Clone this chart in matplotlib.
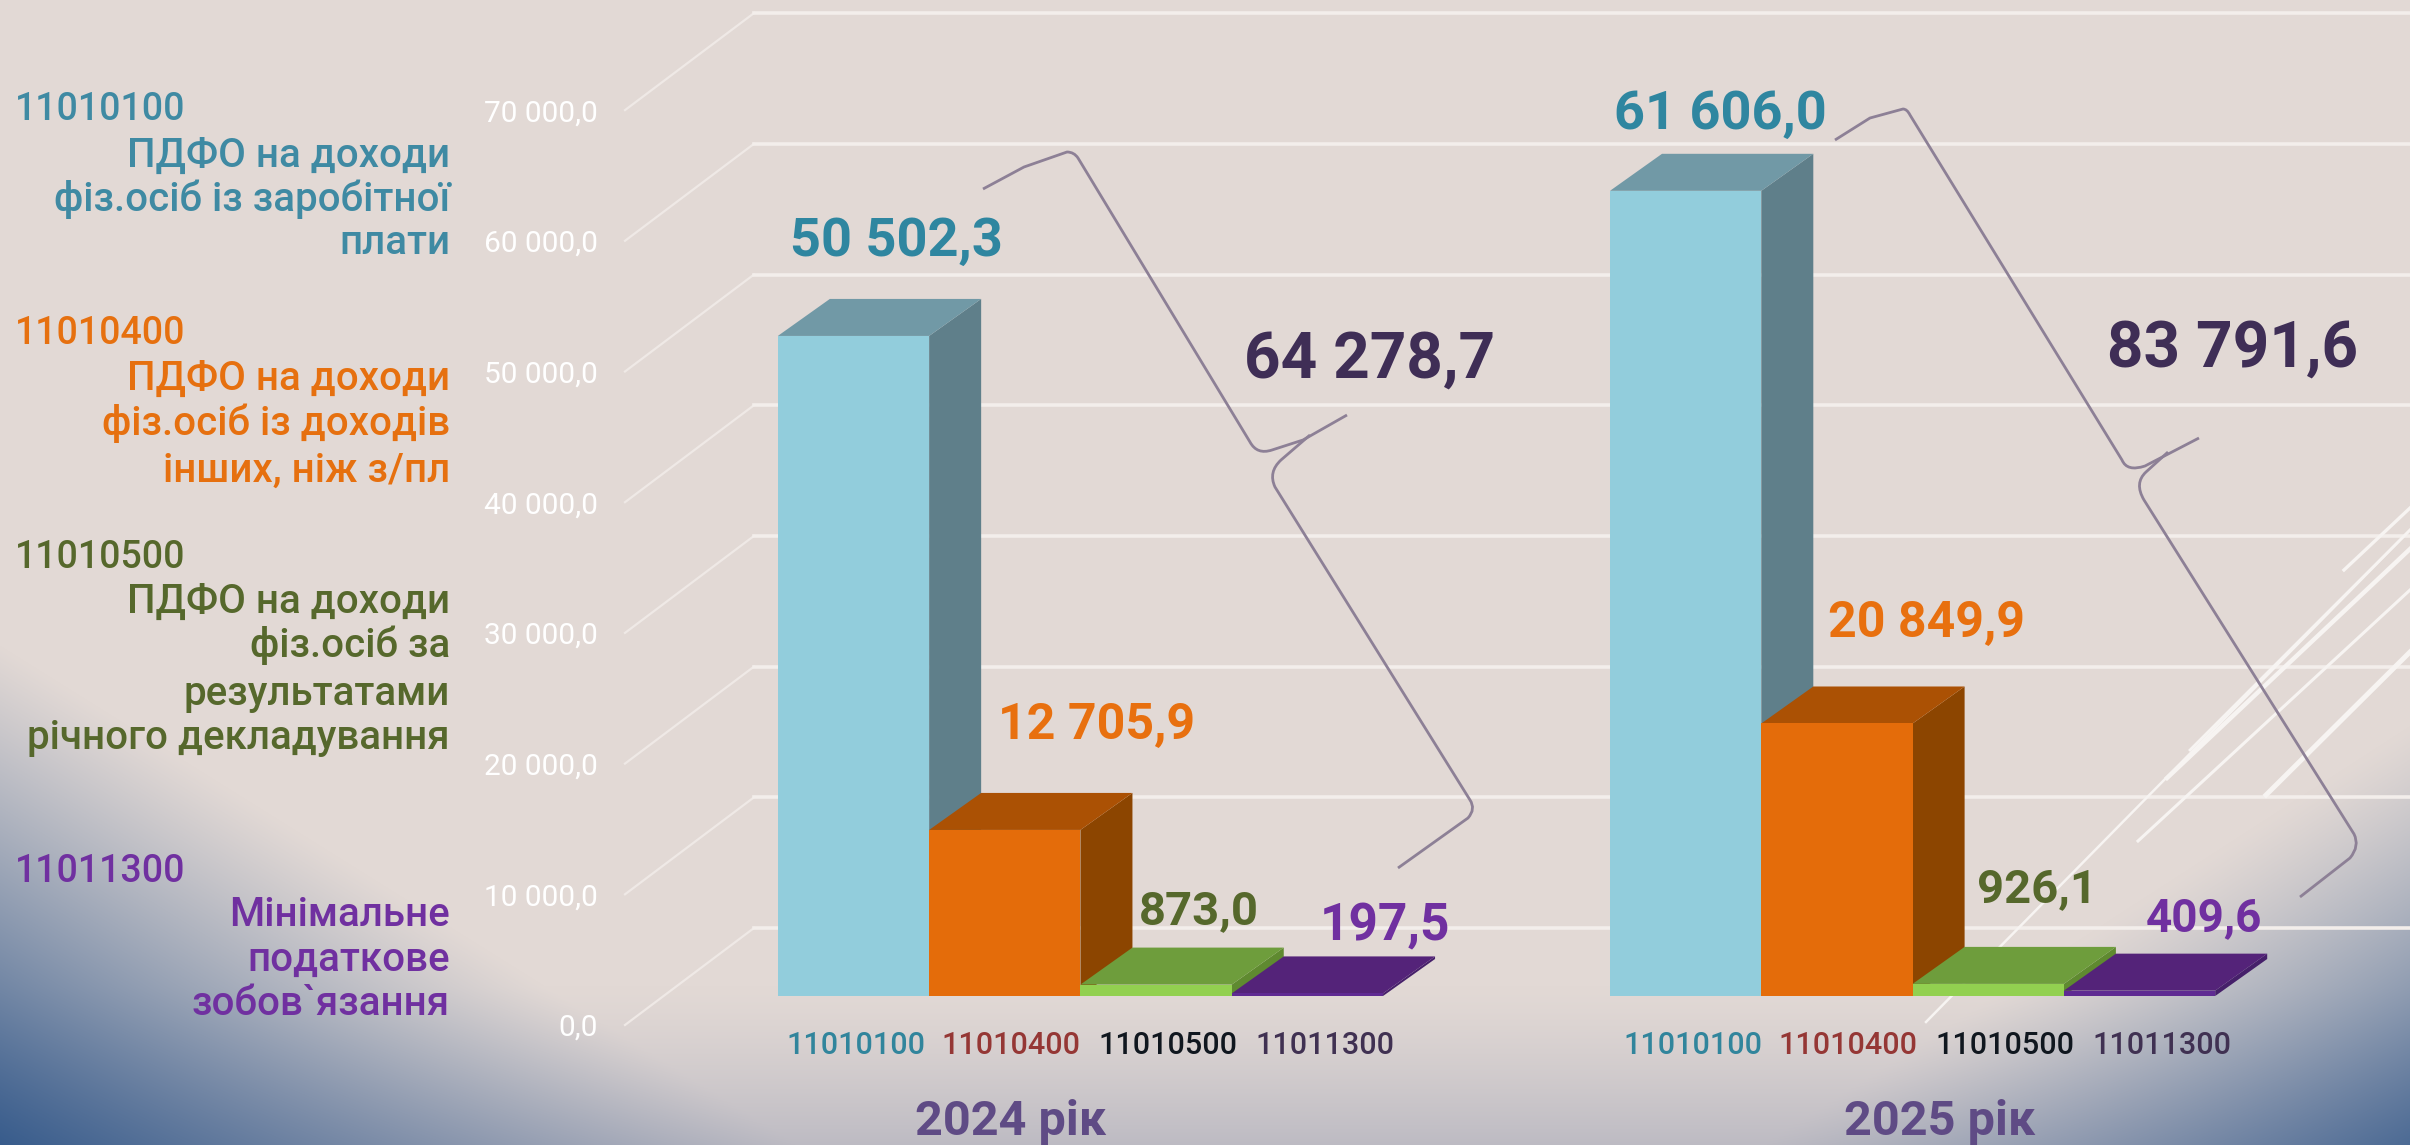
import numpy as np
import matplotlib
matplotlib.use("Agg")
import matplotlib.pyplot as plt
from matplotlib.patches import Polygon, PathPatch
from matplotlib.path import Path
from matplotlib.transforms import Affine2D

W, H = 2410, 1145
FONT = "Roboto"

years = ["2024 рік", "2025 рік"]
codes = ["11010100", "11010400", "11010500", "11011300"]
values_2024 = [50502.3, 12705.9, 873.0, 197.5]
values_2025 = [61606.0, 20849.9, 926.1, 409.6]
totals = [64278.7, 83791.6]
y_ticks = [0, 10000, 20000, 30000, 40000, 50000, 60000, 70000]
legend_lines = [
    ["ПДФО на доходи", "фіз.осіб із заробітної", "плати"],
    ["ПДФО на доходи", "фіз.осіб із доходів", "інших, ніж з/пл"],
    ["ПДФО на доходи", "фіз.осіб за", "результатами", "річного декладування"],
    ["Мінімальне", "податкове", "зобов`язання"],
]
code_colors = ["#31859c", "#953735", "#10171f", "#403152"]
label_colors = ["#2f86a0", "#e8700f", "#56682c", "#7030a0"]
legend_colors = ["#3f8aa3", "#e6700f", "#56682c", "#7030a0"]
front = ["#92cddc", "#e46c0a", "#92d050", "#5f2a92"]
top = ["#7199a6", "#ab5104", "#6e9d3c", "#542379"]
side = ["#5f7f8a", "#8c4500", "#5f8a30", "#46206a"]


def fmt(v):
    s = f"{v:,.1f}"
    return s.replace(",", " ").replace(".", ",")


fig = plt.figure(figsize=(W / 100, H / 100), dpi=100)
PX = Affine2D().scale(1, -1).translate(0, H)

# background
bg = fig.add_axes([0, 0, 1, 1], zorder=0)
bg.axis("off")
yy, xx = np.mgrid[0:H, 0:W]
base = np.array([0xe2, 0xd9, 0xd5]) / 255
blue = np.array([0x38, 0x5c, 0x8c]) / 255
grey = np.array([0xbd, 0xbb, 0xc3]) / 255
tl = np.clip(1 - (xx / 800 + (H - yy) / 500), 0, 1) ** 1.1
tr = np.clip(1 - ((W - xx) / 650 + (H - yy) / 420), 0, 1) ** 1.2 * 0.85
tb = np.clip((yy - 985) / 160, 0, 1) ** 1.3
img = base + (grey - base) * tb[..., None]
t = np.maximum(tl, tr)[..., None]
img = img + (blue - img) * t
bg.imshow(img, extent=(0, W, H, 0), aspect="auto", interpolation="bilinear")
bg.set_xlim(0, W)
bg.set_ylim(H, 0)

# main axes: the front plane of the bars
PX_PER_VALUE = 130.7 / 10000
BAR_W = 151.3
X0 = 853.5
Y0 = 996
ax = fig.add_axes([0, 0, 1, 1], zorder=1)
ax.patch.set_alpha(0)
ax.axis("off")
ax.set_xlim((0 - X0) / BAR_W, (W - X0) / BAR_W)
ax.set_ylim((Y0 - H) / PX_PER_VALUE, Y0 / PX_PER_VALUE)

DX = 52 / BAR_W
DY = 37 / PX_PER_VALUE
WALL_DY = 68 / PX_PER_VALUE
DIAG_DX = 129 / BAR_W
DIAG_DY = 97 / PX_PER_VALUE
GROUP_GAP = 5.5

# gridlines and their wall diagonals
xwall = (754 - X0) / BAR_W
for v in y_ticks:
    yw = v + WALL_DY
    ax.plot([xwall - DIAG_DX, xwall], [yw - DIAG_DY, yw], color="#efe9e6", lw=1.6, zorder=1)
    ax.plot([xwall, ax.get_xlim()[1]], [yw, yw], color="#f3eeeb", lw=2.6, zorder=1)
    ax.annotate(f"{v:,.1f}".replace(",", " ").replace(".", ","),
                xy=(xwall - DIAG_DX, yw - DIAG_DY), xytext=(-27, -3),
                textcoords="offset pixels", ha="right", va="center",
                color="#ffffff", fontsize=21.5, family=FONT, fontweight="normal", zorder=5)

# decorative streaks
streaks = [((2167, 778), (2410, 549), 3.2), ((2138, 841), (2410, 590), 2.2),
           ((2266, 795), (2410, 652), 3.6), ((2344, 570), (2410, 508), 2.4),
           ((1926, 1022), (2410, 530), 1.8), ((2190, 750), (2410, 530), 2.0)]
for a, b, lw in streaks:
    ax.plot([a[0], b[0]], [a[1], b[1]], color="#f7f4f2", lw=lw, transform=PX, zorder=1.5)


# bars
def bar3d(x, v, i):
    l, r = x - 0.5, x + 0.5
    z = 2 + i * 0.01
    ax.add_patch(Polygon([(r, 0), (r + DX, DY), (r + DX, v + DY), (r, v)], fc=side[i], ec="none", zorder=z))
    ax.add_patch(Polygon([(l, v), (r, v), (r + DX, v + DY), (l + DX, v + DY)], fc=top[i], ec="none", zorder=z))
    ax.bar(x, v, width=1.0, color=front[i], zorder=z + 0.001)


for g, vals in enumerate([values_2024, values_2025]):
    for i, v in enumerate(vals):
        bar3d(i + g * GROUP_GAP, v, i)


def txt(px, py, s, color, size, weight="normal", ha="center"):
    ax.text(px, py, s, transform=PX, color=color, fontsize=size, fontweight=weight,
            ha=ha, va="center", family=FONT, zorder=6)


# value labels
pos_vals = [[(896, 241), (1097, 726), (1199, 911), (1385, 926)],
            [(1720, 114), (1926, 624), (2037, 889), (2204, 918)]]
sizes = [[39, 36, 34, 37], [39, 36, 34, 33]]
for g, vals in enumerate([values_2024, values_2025]):
    for i, v in enumerate(vals):
        p = pos_vals[g][i]
        txt(p[0], p[1], fmt(v), label_colors[i], sizes[g][i], "bold")

txt(1370, 360, fmt(totals[0]), "#3f2e56", 46, "bold")
txt(2233, 349, fmt(totals[1]), "#3f2e56", 46, "bold")

# category labels under bars
cat_x = [[856, 1011, 1168, 1325], [1693, 1848, 2005, 2162]]
for g in range(2):
    for i, c in enumerate(codes):
        txt(cat_x[g][i], 1045, c, code_colors[i], 22, "medium")
txt(1011, 1122, years[0], "#5f4b85", 35, "bold")
txt(1940, 1122, years[1], "#5f4b85", 35, "bold")

# left legend
code_y = [110, 334, 557, 872]
line_y = [[156, 199, 243], [379, 423, 471], [602, 645, 694, 738], [915, 960, 1004]]
for i, c in enumerate(codes):
    txt(15, code_y[i], c, legend_colors[i], 27, "medium", ha="left")
    for s, y in zip(legend_lines[i], line_y[i]):
        txt(450, y, s, legend_colors[i], 29, "medium", ha="right")


# braces: straight runs joined by rounded corners
def brace(pts):
    verts, cmds = [pts[0]], [Path.MOVETO]
    for p, kind in pts[1:]:
        verts.append(p)
        cmds.append(kind)
    ax.add_patch(PathPatch(Path(verts, cmds), fc="none", ec="#8d8096", lw=2.0,
                           transform=PX, zorder=4, joinstyle="round"))


L, C = Path.LINETO, Path.CURVE3
brace([(983, 189), ((1024, 167), L), ((1067, 152), L), ((1074, 152), C), ((1078, 158), C), ((1250, 442), L),
       ((1257, 455), C), ((1272, 450), C), ((1303, 440), L), ((1347, 415), L)])
brace([(1310, 435), ((1281, 460), L), ((1268, 472), C), ((1275, 487), C), ((1470, 800), L),
       ((1476, 809), C), ((1468, 818), C), ((1398, 868), L)])
brace([(1835, 140), ((1870, 118), L), ((1903, 109), L), ((1907, 109), C), ((1910, 115), C), ((2122, 460), L),
       ((2127, 472), C), ((2145, 466), C), ((2199, 438), L)])
brace([(2168, 452), ((2146, 472), L), ((2134, 483), C), ((2144, 500), C), ((2354, 834), L),
       ((2360, 846), C), ((2350, 858), C), ((2300, 897), L)])

fig.savefig("out.png", dpi=100)
